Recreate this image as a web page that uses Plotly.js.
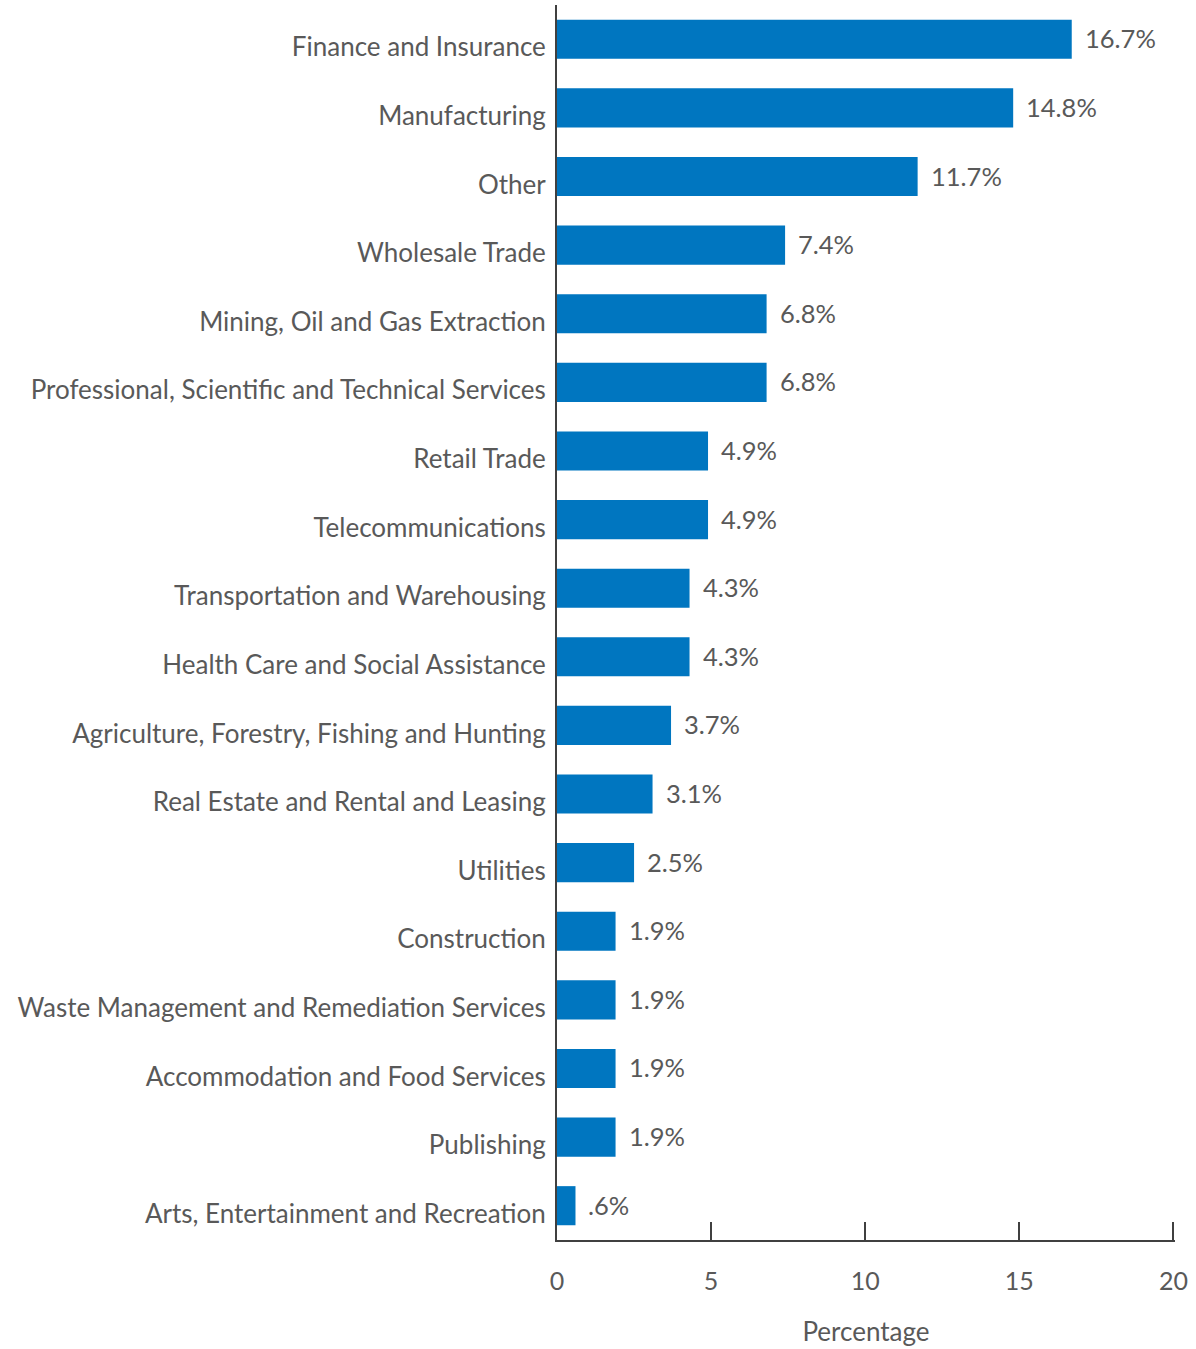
<!DOCTYPE html>
<html><head><meta charset="utf-8">
<script src="https://cdn.plot.ly/plotly-3.0.1.min.js"></script>
<style>html,body{margin:0;padding:0;background:#fff}</style>
</head><body><div id="chart" style="width:1196px;height:1349px"></div>
<script>
const categories = [
  "Finance and Insurance","Manufacturing","Other","Wholesale Trade",
  "Mining, Oil and Gas Extraction","Professional, Scientific and Technical Services",
  "Retail Trade","Telecommunications","Transportation and Warehousing",
  "Health Care and Social Assistance","Agriculture, Forestry, Fishing and Hunting",
  "Real Estate and Rental and Leasing","Utilities","Construction",
  "Waste Management and Remediation Services","Accommodation and Food Services",
  "Publishing","Arts, Entertainment and Recreation"
];
const values = [16.7,14.8,11.7,7.4,6.8,6.8,4.9,4.9,4.3,4.3,3.7,3.1,2.5,1.9,1.9,1.9,1.9,0.6];
const valueLabels = ["16.7%","14.8%","11.7%","7.4%","6.8%","6.8%","4.9%","4.9%","4.3%","4.3%","3.7%","3.1%","2.5%","1.9%","1.9%","1.9%","1.9%",".6%"];
const xTicks = [0,5,10,15,20];

const font = "Lato, 'Open Sans', sans-serif";
const gray = "#595959";

const annotations = categories.map((c,i)=>({
  x: values[i], y: c, xref:'x', yref:'y', text: valueLabels[i],
  showarrow:false, xanchor:'left', yanchor:'middle', xshift:11, yshift:1,
  font:{family:font,size:25.5,color:gray}
}));

Plotly.newPlot('chart',[{
  type:'bar', orientation:'h', x:values, y:categories,
  marker:{color:'#0076C0'}, width:0.57, hoverinfo:'none', cliponaxis:false
}],{
  width:1196, height:1349,
  margin:{l:557,r:21,t:5,b:109},
  paper_bgcolor:'#fff', plot_bgcolor:'#fff',
  showlegend:false,
  font:{family:font,size:25,color:gray},
  xaxis:{range:[0,20.05], tickvals:xTicks, ticktext:xTicks.map(String),
    showgrid:false, zeroline:false, showline:true, linecolor:'#404040', linewidth:2,
    ticks:'inside', ticklen:18, tickwidth:2, tickcolor:'#404040',
    ticklabelstandoff:18,
    tickfont:{family:font,size:25,color:gray},
    title:{text:'Percentage', font:{family:font,size:26,color:gray}, standoff:29}
  },
  yaxis:{categoryorder:'array', categoryarray:categories, autorange:'reversed',
    showgrid:false, zeroline:false, showline:true, linecolor:'#404040', linewidth:2,
    ticks:'', ticklabelstandoff:4, ticklabelshift:-8,
    tickfont:{family:font,size:26,color:gray}
  },
  annotations: annotations
},{displayModeBar:false, staticPlot:true});
</script></body></html>
